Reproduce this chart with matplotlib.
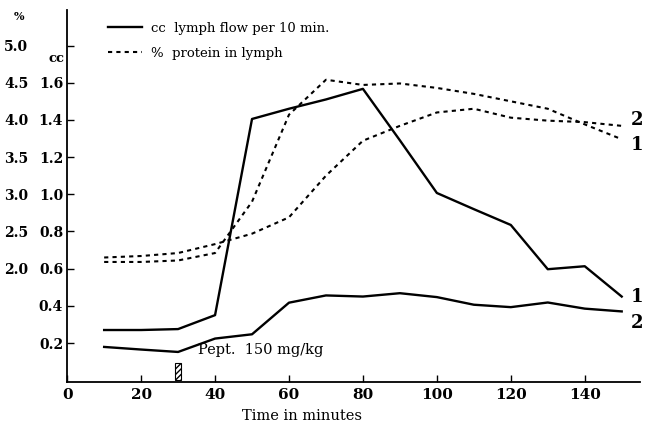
import numpy as np
import matplotlib.pyplot as plt
from matplotlib.lines import Line2D

# time after start (min)
time = [10, 20, 30, 40, 50, 60, 70, 80, 90, 100, 110, 120, 130, 140, 150]

# cc lymph flow per 10 min
flow_1 = [0.27, 0.27, 0.275, 0.35, 1.405, 1.46, 1.51, 1.567, 1.29, 1.007, 0.92, 0.835, 0.597, 0.613, 0.45]
flow_2 = [0.179, 0.165, 0.152, 0.224, 0.247, 0.417, 0.456, 0.45, 0.468, 0.447, 0.406, 0.393, 0.418, 0.385, 0.37]

# % protein in lymph
prot_1 = [2.09, 2.09, 2.11, 2.21, 2.9, 4.07, 4.54, 4.47, 4.49, 4.43, 4.35, 4.25, 4.15, 3.94, 3.74]
prot_2 = [2.15, 2.17, 2.21, 2.33, 2.47, 2.69, 3.25, 3.72, 3.92, 4.1, 4.15, 4.03, 3.99, 3.97, 3.92]

cc_ticks = [0.2, 0.4, 0.6, 0.8, 1.0, 1.2, 1.4, 1.6, 1.8]
cc_labels = ['0.2', '0.4', '0.6', '0.8', '1.0', '1.2', '1.4', '1.6', '']
pct_ticks = [2.0, 2.5, 3.0, 3.5, 4.0, 4.5, 5.0]
x_ticks = [0, 20, 40, 60, 80, 100, 120, 140]

plt.rcParams['font.family'] = ['DejaVu Serif']

fig = plt.figure(figsize=(6.46, 4.25), dpi=100)
ax = fig.add_axes([0.104, 0.101, 0.887, 0.875])

ylo, yhi = -0.01, 1.99
ax.set_xlim(0, 155)
ax.set_ylim(ylo, yhi)

ax.plot(time, flow_1, color='black', lw=1.7)
ax.plot(time, flow_2, color='black', lw=1.7)

# percent scale: 2.0 % sits at 0.6 cc, 5.0 % at 1.8 cc
ax2 = ax.twinx()
ax2.set_ylim(0.5 + 2.5 * ylo, 0.5 + 2.5 * yhi)
ax2.plot(time, prot_1, color='black', lw=1.5, ls=(0, (2, 2)))
ax2.plot(time, prot_2, color='black', lw=1.5, ls=(0, (2, 2)))

for a in (ax, ax2):
    for s in ['top', 'right']:
        a.spines[s].set_visible(False)
ax2.spines['left'].set_visible(False)
ax2.spines['bottom'].set_visible(False)
ax.spines['left'].set_linewidth(1.3)
ax.spines['bottom'].set_linewidth(1.3)

ax.set_xticks(x_ticks)
ax.set_xticklabels([str(t) for t in x_ticks], fontsize=11, fontweight='bold')
ax.set_yticks(cc_ticks)
ax.set_yticklabels(cc_labels, fontsize=10, fontweight='bold')
ax.tick_params(axis='both', direction='in', length=5, width=1)
ax.tick_params(axis='y', pad=3)
ax.tick_params(axis='x', pad=4)

ax2.yaxis.tick_left()
ax2.set_yticks(pct_ticks)
ax2.set_yticklabels(['%.1f' % p for p in pct_ticks], fontsize=10, fontweight='bold')
ax2.tick_params(axis='y', length=0, pad=28)

fig.text(0.022, 0.952, '%', fontsize=8, fontweight='bold')
fig.text(0.075, 0.853, 'cc', fontsize=9.5, fontweight='bold')

ax.set_xlabel('Time in minutes', fontsize=10.5)
ax.xaxis.set_label_coords(0.41, -0.072)

# injection marker
ax.bar([30], [0.09], width=1.4, bottom=0, fill=False, hatch='//////', edgecolor='black', lw=0.8)
ax.text(35.5, 0.14, 'Pept.  150 mg/kg', fontsize=10.5)

# curve numbers at right end
ax2.text(152.5, prot_2[-1] + 0.08, '2', fontsize=13, fontweight='bold', va='center')
ax2.text(152.5, prot_1[-1] - 0.08, '1', fontsize=13, fontweight='bold', va='center')
ax.text(152.5, flow_1[-1] - 0.005, '1', fontsize=13, fontweight='bold', va='center')
ax.text(152.5, flow_2[-1] - 0.06, '2', fontsize=13, fontweight='bold', va='center')

handles = [Line2D([], [], color='black', lw=1.7),
           Line2D([], [], color='black', lw=1.5, ls=(0, (2, 2)))]
ax2.legend(handles, ['cc  lymph flow per 10 min.', '%  protein in lymph'],
           loc='upper left', bbox_to_anchor=(0.05, 1.0), frameon=False,
           fontsize=9.5, handlelength=2.6, handletextpad=0.7, labelspacing=0.9)

fig.savefig('out.png', dpi=100)
